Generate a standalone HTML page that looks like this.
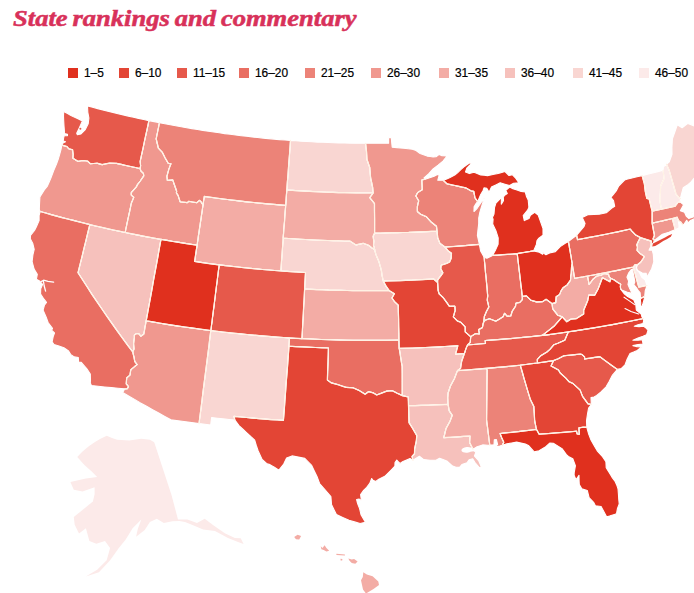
<!DOCTYPE html>
<html lang="en"><head><meta charset="utf-8"><title>State rankings and commentary</title>
<style>
html,body{margin:0;padding:0;background:#fff}
body{width:694px;height:593px;position:relative;overflow:hidden;font-family:"Liberation Sans",Arial,sans-serif}
h1{position:absolute;left:13px;top:5px;margin:0;font:italic bold 22.6px/28px "Liberation Serif","Times New Roman",serif;color:#D8315A;-webkit-text-stroke:0.5px #D8315A;white-space:nowrap;transform-origin:0 50%;word-spacing:-1.5px;transform:scaleX(1.175)}
.lg i{position:absolute;top:68px;width:10px;height:10px;display:block}
.lg b{-webkit-text-stroke:0.2px #000;position:absolute;top:66px;font-weight:normal;font-size:11.9px;line-height:14px;color:#000;white-space:nowrap}
svg{position:absolute;left:0;top:0}
.s{stroke:#fff;stroke-width:1.1;stroke-linejoin:round}
.b{fill:none;stroke:#FFF2E4;stroke-width:1.2;stroke-linejoin:round;stroke-linecap:round}
</style></head><body>
<h1>State rankings and commentary</h1>
<div class="lg"><i style="left:68px;background:#E0301E"></i><b style="left:84px">1–5</b><i style="left:119px;background:#E34535"></i><b style="left:135px">6–10</b><i style="left:177px;background:#E6594B"></i><b style="left:193px">11–15</b><i style="left:239px;background:#E96E62"></i><b style="left:255px">16–20</b><i style="left:305px;background:#EC8378"></i><b style="left:321px">21–25</b><i style="left:371px;background:#F0988F"></i><b style="left:387px">26–30</b><i style="left:439px;background:#F3ACA5"></i><b style="left:455px">31–35</b><i style="left:505px;background:#F6C1BC"></i><b style="left:521px">36–40</b><i style="left:573px;background:#F9D6D2"></i><b style="left:589px">41–45</b><i style="left:639px;background:#FCEAE9"></i><b style="left:655px">46–50</b></div>
<svg width="694" height="593" viewBox="0 0 694 593">
<path class="s" fill="#FCEAE9" d="M633.2,267.0 635.1,273.7 636.9,280.4 638.8,287.1 642.9,286.3 647.0,285.5 645.1,279.9 641.8,277.3 639.5,272.7 636.9,269.9 636.4,267.5 637.4,264.7 635.1,264.5Z"/>
<path class="s" fill="#FCEAE9" d="M672.3,218.5 677.2,217.2 677.8,219.1 678.9,220.9 680.8,222.1 682.6,224.7 681.8,225.6 680.4,222.7 678.4,221.5 679.0,225.6 678.9,228.1 674.5,229.9 674.9,228.4 673.6,223.5Z"/>
<path class="s" fill="#FCEAE9" d="M642.1,175.6 647.4,174.3 652.6,173.0 657.9,171.6 663.1,170.3 664.1,178.5 660.6,186.2 660.4,192.2 659.9,199.9 660.6,204.9 661.6,209.2 656.8,210.2 652.1,211.2 650.6,205.1 649.1,198.9 646.8,198.4 645.3,191.7 644.3,183.5Z"/>
<path class="s" fill="#FCEAE9" d="M663.1,170.3 663.4,166.8 666.5,164.3 669.2,170.3 670.9,176.2 672.6,182.1 674.3,188.0 676.0,194.0 679.0,197.8 680.4,198.5 680.1,201.9 678.0,202.5 675.7,205.4 675.2,206.2 670.7,207.2 666.1,208.2 661.6,209.2 660.6,204.9 659.9,199.9 660.4,192.2 660.6,186.2 664.1,178.5Z"/>
<path class="s" fill="#F9D6D2" d="M210.8,330.5 216.9,331.3 222.9,332.0 228.9,332.7 235.0,333.3 241.0,333.9 247.1,334.5 253.2,335.1 259.2,335.6 265.3,336.1 271.3,336.6 277.4,337.1 283.5,337.5 289.5,337.9 289.0,346.2 288.4,354.4 287.8,362.7 287.2,370.9 286.5,379.2 285.9,387.4 285.3,395.7 284.7,403.9 284.1,412.2 283.4,420.4 277.3,420.0 271.1,419.6 264.9,419.1 258.7,418.6 252.5,418.1 246.4,417.5 240.2,417.0 234.0,416.4 234.9,420.1 229.1,419.5 223.2,418.9 217.4,418.3 211.6,417.6 210.7,425.0 204.9,424.3 199.0,423.6 200.0,415.8 201.0,408.1 202.0,400.3 202.9,392.6 203.9,384.9 204.9,377.1 205.9,369.3 206.9,361.6 207.9,353.8 208.9,346.1 209.8,338.3Z"/>
<path class="s" fill="#F9D6D2" d="M290.5,140.4 295.9,140.8 301.2,141.2 306.6,141.5 312.0,141.8 317.3,142.1 322.7,142.3 328.1,142.5 333.4,142.7 338.8,142.9 344.2,143.0 349.5,143.1 354.9,143.2 360.3,143.3 365.6,143.3 366.5,151.4 367.0,159.5 369.8,167.6 370.2,172.6 370.6,177.7 371.7,182.6 372.7,187.6 373.2,193.0 367.4,193.0 361.7,193.0 355.9,192.9 350.1,192.8 344.4,192.7 338.6,192.6 332.8,192.4 327.1,192.2 321.3,192.0 315.6,191.7 309.8,191.4 304.1,191.1 298.3,190.8 292.6,190.4 286.8,190.0 287.3,182.9 287.9,175.8 288.4,168.7 288.9,161.6 289.5,154.5 290.0,147.5Z"/>
<path class="s" fill="#F9D6D2" d="M283.2,238.1 288.8,238.5 294.3,238.8 299.9,239.2 305.5,239.5 311.0,239.8 316.6,240.0 322.1,240.3 327.7,240.5 333.3,240.7 338.8,240.8 344.4,241.0 350.0,241.1 355.9,244.9 359.6,244.1 363.2,243.3 368.6,245.3 371.7,247.8 374.7,249.6 375.9,254.4 379.0,261.8 381.3,269.9 382.2,275.8 383.3,281.1 386.1,286.2 389.2,290.6 383.1,290.7 377.1,290.7 371.0,290.7 365.0,290.7 359.0,290.7 352.9,290.6 346.9,290.5 340.8,290.4 334.8,290.2 328.7,290.1 322.7,289.8 316.7,289.6 310.6,289.3 304.6,289.0 305.0,280.8 305.5,272.5 299.3,272.2 293.1,271.8 286.9,271.4 280.8,271.0 281.4,262.7 282.0,254.5 282.6,246.3Z"/>
<path class="s" fill="#F9D6D2" d="M374.6,233.0 380.3,233.0 386.0,232.9 391.7,232.8 397.4,232.7 403.0,232.5 408.7,232.4 414.4,232.1 420.1,231.9 425.8,231.7 431.4,231.4 437.1,231.1 437.7,237.6 439.9,243.3 445.1,247.1 448.3,251.0 451.5,253.3 451.2,258.2 449.6,262.0 446.6,263.5 441.2,265.2 440.8,268.8 442.9,272.8 441.2,275.4 437.7,279.8 437.6,282.6 433.6,279.0 428.0,279.3 422.4,279.6 416.8,279.9 411.2,280.2 405.6,280.4 400.1,280.6 394.5,280.8 388.9,280.9 383.3,281.1 382.2,275.8 381.3,269.9 379.0,261.8 375.9,254.4 374.7,249.6 373.5,245.3 373.8,241.2 373.1,236.3Z"/>
<path class="s" fill="#F9D6D2" d="M666.5,164.3 669.3,161.8 672.0,154.3 671.9,147.5 672.4,138.9 674.9,131.8 677.3,124.7 682.1,127.7 685.0,125.5 687.9,123.4 694.7,126.1 696.9,133.2 699.1,140.3 701.3,147.5 705.7,147.8 707.9,154.9 714.1,157.2 714.9,159.6 712.1,162.6 709.4,165.6 706.5,168.2 703.6,170.8 700.0,171.0 696.3,171.2 695.5,176.6 690.9,182.2 687.9,184.7 683.2,187.8 681.7,193.3 680.4,198.5 679.0,197.8 676.0,194.0 674.3,188.0 672.6,182.1 670.9,176.2 669.2,170.3Z"/>
<path class="s" fill="#F6C1BC" d="M89.8,224.6 95.7,226.0 101.6,227.3 107.5,228.7 113.4,230.0 119.3,231.2 125.2,232.5 131.1,233.7 137.1,234.9 143.1,236.1 149.0,237.2 155.0,238.3 161.0,239.4 159.5,247.5 158.1,255.6 156.6,263.8 155.1,271.9 153.6,280.0 152.2,288.2 150.7,296.3 149.2,304.5 147.7,312.6 146.2,320.8 145.0,327.4 143.9,334.0 140.9,336.3 138.9,333.9 136.6,333.5 134.4,335.1 134.4,337.7 133.6,343.8 134.1,348.9 132.7,352.0 127.4,344.9 122.2,337.8 117.0,330.6 111.9,323.4 106.9,316.3 101.9,309.0 97.0,301.8 92.1,294.6 87.4,287.3 82.7,280.0 78.0,272.7 80.0,264.7 82.0,256.7 83.9,248.6 85.9,240.6 87.8,232.6Z"/>
<path class="s" fill="#F6C1BC" d="M399.2,348.4 405.7,348.2 412.2,348.0 418.8,347.8 425.3,347.5 431.8,347.2 438.4,346.9 444.9,346.5 451.4,346.1 457.9,345.7 455.6,354.1 460.0,353.8 464.4,353.5 461.7,361.2 460.6,368.2 457.5,370.6 454.4,378.8 450.5,386.0 448.2,392.7 447.8,397.7 448.1,404.3 441.5,404.6 434.9,404.9 428.3,405.2 421.7,405.4 415.1,405.6 408.5,405.7 408.4,401.3 408.2,397.0 402.2,395.6 402.2,388.4 402.2,381.1 402.2,373.8 402.1,366.5 401.1,360.5 400.2,354.4Z"/>
<path class="s" fill="#F6C1BC" d="M408.5,405.7 415.1,405.6 421.7,405.4 428.3,405.2 434.9,404.9 441.5,404.6 448.1,404.3 449.3,410.9 452.3,415.3 449.9,421.6 446.1,428.4 445.0,433.0 443.8,437.6 450.4,437.3 457.0,436.9 463.6,436.4 470.1,436.0 469.6,442.6 473.0,449.3 475.8,452.4 474.4,456.0 478.8,461.0 481.3,466.8 479.5,467.8 475.0,462.5 472.7,458.9 469.1,459.8 467.0,462.8 461.9,464.6 459.8,467.1 456.0,467.3 452.6,466.1 446.8,461.0 443.0,459.5 439.6,458.3 436.0,460.3 430.0,460.3 423.7,459.6 419.4,456.3 413.0,460.3 412.0,456.3 414.5,453.7 414.6,448.8 416.4,440.5 416.7,435.5 412.5,428.2 409.0,422.6 408.8,416.9 408.7,411.3Z"/>
<path class="s" fill="#F6C1BC" d="M637.4,264.7 636.5,267.9 637.7,270.6 642.2,273.0 646.2,273.4 646.7,277.4 649.2,273.2 651.6,268.9 653.8,261.8 653.3,254.3 652.2,249.9 649.1,250.1 651.0,246.3 651.4,241.1 645.9,239.4 640.4,237.6 638.6,240.7 636.7,245.0 637.5,246.9 637.0,250.4 639.6,253.2 644.2,256.4 643.3,258.3 640.6,262.3Z"/>
<path class="s" fill="#F3ACA5" d="M204.3,196.4 210.1,197.2 215.9,198.0 221.7,198.8 227.5,199.5 233.3,200.2 239.1,200.9 244.9,201.6 250.7,202.2 256.5,202.8 262.4,203.4 268.2,203.9 274.0,204.4 279.8,204.9 285.7,205.3 285.1,213.5 284.5,221.7 283.8,229.9 283.2,238.1 282.6,246.3 282.0,254.5 281.4,262.7 280.8,271.0 274.6,270.5 268.4,270.0 262.3,269.5 256.1,268.9 249.9,268.3 243.8,267.7 237.6,267.0 231.5,266.3 225.3,265.6 219.2,264.9 213.0,264.1 206.9,263.3 200.8,262.4 194.6,261.5 195.8,253.4 197.1,245.2 198.2,237.1 199.4,229.1 200.6,221.1 201.8,213.0 203.0,205.0 203.6,200.7Z"/>
<path class="s" fill="#F3ACA5" d="M286.8,190.0 292.6,190.4 298.3,190.8 304.1,191.1 309.8,191.4 315.6,191.7 321.3,192.0 327.1,192.2 332.8,192.4 338.6,192.6 344.4,192.7 350.1,192.8 355.9,192.9 361.7,193.0 367.4,193.0 373.2,193.0 369.8,197.7 374.5,203.5 374.5,210.8 374.6,218.2 374.6,225.6 374.6,233.0 373.1,236.3 373.8,241.2 373.5,245.3 374.7,249.6 371.7,247.8 368.6,245.3 363.2,243.3 359.6,244.1 355.9,244.9 350.0,241.1 344.4,241.0 338.8,240.8 333.3,240.7 327.7,240.5 322.1,240.3 316.6,240.0 311.0,239.8 305.5,239.5 299.9,239.2 294.3,238.8 288.8,238.5 283.2,238.1 283.8,229.9 284.5,221.7 285.1,213.5 285.7,205.3 286.2,197.6Z"/>
<path class="s" fill="#F3ACA5" d="M304.6,289.0 310.6,289.3 316.7,289.6 322.7,289.8 328.7,290.1 334.8,290.2 340.8,290.4 346.9,290.5 352.9,290.6 359.0,290.7 365.0,290.7 371.0,290.7 377.1,290.7 383.1,290.7 389.2,290.6 394.4,293.8 392.0,298.0 394.6,301.7 398.3,305.1 398.4,312.1 398.6,319.1 398.7,326.1 398.9,333.1 399.0,340.1 392.5,340.2 386.0,340.3 379.6,340.4 373.1,340.4 366.6,340.4 360.2,340.4 353.7,340.3 347.2,340.2 340.7,340.1 334.3,339.9 327.8,339.7 321.3,339.5 314.9,339.2 308.4,338.9 301.9,338.6 302.4,330.3 302.8,322.1 303.3,313.8 303.7,305.5 304.2,297.3Z"/>
<path class="s" fill="#F3ACA5" d="M457.5,370.6 463.1,370.2 468.8,369.8 474.4,369.4 480.1,368.9 485.7,368.4 487.2,369.9 487.1,378.2 487.0,386.6 486.9,394.9 486.8,403.2 486.7,411.5 486.6,419.8 487.4,426.1 488.2,432.5 489.0,438.8 489.8,445.1 487.6,445.3 482.6,444.9 476.4,447.1 473.0,449.3 469.6,442.6 470.1,436.0 463.6,436.4 457.0,436.9 450.4,437.3 443.8,437.6 445.0,433.0 446.1,428.4 449.9,421.6 452.3,415.3 449.3,410.9 448.1,404.3 447.8,397.7 448.2,392.7 450.5,386.0 454.4,378.8Z"/>
<path class="s" fill="#F3ACA5" d="M572.1,263.3 573.4,270.8 574.7,278.3 579.0,277.5 583.3,276.8 587.6,276.0 588.4,280.3 589.1,284.5 593.0,279.2 596.8,276.0 601.3,275.2 603.7,273.4 608.5,274.1 609.3,276.8 610.7,278.4 609.9,281.8 606.2,279.7 602.4,277.7 600.4,283.0 598.4,288.4 594.7,295.3 588.8,295.0 587.8,300.4 585.8,305.3 583.7,310.2 583.7,314.0 580.1,316.3 576.5,318.6 570.7,319.2 566.8,321.8 562.2,316.8 557.6,315.2 552.7,308.9 552.0,303.6 555.7,302.6 556.1,296.7 559.6,294.4 561.0,290.9 563.0,287.7 567.1,284.9 570.5,280.1 570.7,275.9 571.2,273.0 571.5,267.4Z"/>
<path class="s" fill="#F0988F" d="M61.9,145.1 66.9,146.5 68.7,148.7 72.6,149.8 73.2,154.2 73.0,158.3 77.8,161.3 82.8,160.5 87.5,161.0 90.3,163.7 93.7,163.5 97.1,163.2 102.1,164.6 105.8,163.8 109.6,163.1 113.1,163.2 116.6,163.4 121.3,164.4 126.0,165.5 130.7,166.5 135.4,167.5 140.0,168.5 141.1,171.2 143.4,173.3 143.8,175.9 140.3,181.0 137.5,184.6 136.4,186.9 131.3,192.6 131.3,195.1 133.8,197.3 132.9,199.6 131.4,203.0 129.9,210.4 128.3,217.7 126.7,225.1 125.2,232.5 119.3,231.2 113.4,230.0 107.5,228.7 101.6,227.3 95.7,226.0 89.8,224.6 84.3,223.2 78.7,221.8 73.2,220.4 67.6,219.0 62.1,217.6 56.6,216.1 51.1,214.6 45.6,213.0 40.1,211.5 39.3,209.5 39.5,204.4 39.9,197.0 44.3,189.9 47.4,186.1 49.2,182.1 50.9,178.1 53.8,170.4 56.5,164.0 58.2,159.3 59.6,154.6 60.9,149.9Z"/>
<path class="s" fill="#F0988F" d="M148.9,120.6 154.2,121.6 159.5,122.7 158.4,128.1 157.3,133.5 156.2,138.9 157.3,143.5 158.4,148.1 162.2,152.1 165.2,158.0 168.4,163.5 171.0,163.7 168.9,169.1 167.0,176.2 167.4,180.4 172.8,179.9 173.9,183.3 176.7,191.2 176.4,192.8 178.1,195.4 180.2,201.8 183.8,202.2 187.3,202.6 188.7,201.3 192.7,202.0 196.8,202.7 199.5,200.3 200.8,201.4 203.0,205.0 201.8,213.0 200.6,221.1 199.4,229.1 198.2,237.1 197.1,245.2 191.0,244.3 185.0,243.4 179.0,242.4 173.0,241.5 167.0,240.4 161.0,239.4 155.0,238.3 149.0,237.2 143.1,236.1 137.1,234.9 131.1,233.7 125.2,232.5 126.7,225.1 128.3,217.7 129.9,210.4 131.4,203.0 132.9,199.6 133.8,197.3 131.3,195.1 131.3,192.6 136.4,186.9 137.5,184.6 140.3,181.0 143.8,175.9 143.4,173.3 141.1,171.2 140.0,168.5 140.6,165.8 140.1,161.5 141.6,154.6 143.1,147.8 144.5,141.0 146.0,134.2 147.5,127.3Z"/>
<path class="s" fill="#F0988F" d="M146.2,320.8 152.7,321.9 159.1,323.0 165.6,324.1 172.0,325.1 178.5,326.1 184.9,327.0 191.4,327.9 197.9,328.8 204.3,329.7 210.8,330.5 209.8,338.3 208.9,346.1 207.9,353.8 206.9,361.6 205.9,369.3 204.9,377.1 203.9,384.9 202.9,392.6 202.0,400.3 201.0,408.1 200.0,415.8 199.0,423.6 193.4,422.8 187.8,422.1 182.1,421.3 176.5,420.6 170.9,419.8 164.8,416.4 158.7,413.1 152.6,409.7 146.6,406.3 140.5,402.9 134.6,399.4 128.6,395.9 122.7,392.4 124.6,388.9 127.3,388.7 128.5,386.6 126.2,383.8 126.7,377.8 129.9,375.1 130.8,369.7 134.5,366.6 137.1,364.6 134.8,361.6 133.9,356.9 132.7,352.0 134.1,348.9 133.6,343.8 134.4,337.7 134.4,335.1 136.6,333.5 138.9,333.9 140.9,336.3 143.9,334.0 145.0,327.4Z"/>
<path class="s" fill="#F0988F" d="M365.6,143.3 370.2,143.3 374.8,143.3 379.4,143.3 384.0,143.2 388.6,143.2 388.6,137.6 391.3,137.4 391.7,142.4 392.2,147.3 397.0,147.6 400.3,148.0 403.7,148.3 408.0,148.8 412.4,149.2 416.0,150.5 420.1,153.5 423.6,154.8 427.1,156.1 430.1,156.5 433.1,157.0 436.0,156.8 439.2,154.4 442.0,155.8 447.2,155.9 443.0,161.1 438.1,165.1 433.1,169.0 428.6,173.8 424.0,178.0 425.2,179.2 421.9,180.0 422.1,184.8 422.3,189.7 417.7,192.6 415.9,196.0 418.7,200.8 417.4,206.6 417.4,211.5 420.7,214.3 426.5,216.8 431.5,222.3 436.5,226.2 437.1,231.1 431.4,231.4 425.8,231.7 420.1,231.9 414.4,232.1 408.7,232.4 403.0,232.5 397.4,232.7 391.7,232.8 386.0,232.9 380.3,233.0 374.6,233.0 374.6,225.6 374.6,218.2 374.5,210.8 374.5,203.5 369.8,197.7 373.2,193.0 372.7,187.6 371.7,182.6 370.6,177.7 370.2,172.6 369.8,167.6 367.0,159.5 366.5,151.4Z"/>
<path class="s" fill="#F0988F" d="M652.1,223.1 657.1,222.0 662.2,220.9 667.2,219.7 672.3,218.5 673.6,223.5 674.9,228.4 674.5,229.9 671.8,231.0 668.9,232.2 665.7,233.2 662.4,234.2 659.2,236.7 655.5,239.6 654.4,240.4 653.0,239.0 654.4,235.3 653.2,229.2Z"/>
<path class="s" fill="#EC8378" d="M159.5,122.7 164.9,123.8 170.3,124.8 175.7,125.8 181.2,126.8 186.6,127.7 192.0,128.6 197.5,129.5 202.9,130.4 208.4,131.2 213.8,132.0 219.3,132.8 224.7,133.6 230.2,134.3 235.7,135.0 241.1,135.7 246.6,136.3 252.1,136.9 257.6,137.5 263.1,138.1 268.5,138.6 274.0,139.1 279.5,139.6 285.0,140.0 290.5,140.4 290.0,147.5 289.5,154.5 288.9,161.6 288.4,168.7 287.9,175.8 287.3,182.9 286.8,190.0 286.2,197.6 285.7,205.3 279.8,204.9 274.0,204.4 268.2,203.9 262.4,203.4 256.5,202.8 250.7,202.2 244.9,201.6 239.1,200.9 233.3,200.2 227.5,199.5 221.7,198.8 215.9,198.0 210.1,197.2 204.3,196.4 203.6,200.7 203.0,205.0 200.8,201.4 199.5,200.3 196.8,202.7 192.7,202.0 188.7,201.3 187.3,202.6 183.8,202.2 180.2,201.8 178.1,195.4 176.4,192.8 176.7,191.2 173.9,183.3 172.8,179.9 167.4,180.4 167.0,176.2 168.9,169.1 171.0,163.7 168.4,163.5 165.2,158.0 162.2,152.1 158.4,148.1 157.3,143.5 156.2,138.9 157.3,133.5 158.4,128.1Z"/>
<path class="s" fill="#EC8378" d="M443.3,180.3 437.8,180.2 439.2,175.2 437.4,174.5 434.1,176.3 429.7,177.8 425.2,179.2 421.9,180.0 422.1,184.8 422.3,189.7 417.7,192.6 415.9,196.0 418.7,200.8 417.4,206.6 417.4,211.5 420.7,214.3 426.5,216.8 431.5,222.3 436.5,226.2 437.1,231.1 437.7,237.6 439.9,243.3 445.1,247.1 450.8,246.7 456.5,246.3 462.3,245.9 468.0,245.4 473.7,244.9 479.4,244.4 478.4,239.9 477.4,235.5 478.0,229.6 478.7,223.8 478.7,218.0 479.9,212.1 481.7,206.2 484.4,197.7 480.8,203.0 477.2,208.3 474.0,211.5 474.1,206.9 476.2,203.4 477.7,201.6 475.0,197.8 473.8,191.3 470.9,190.8 466.0,187.9 462.5,187.2 458.9,186.4 454.9,185.5 451.0,184.7 447.0,183.8Z"/>
<path class="s" fill="#EC8378" d="M485.7,368.4 491.5,367.9 497.3,367.4 503.0,366.9 508.8,366.4 514.5,365.8 520.3,365.2 522.3,372.0 524.2,378.8 526.2,385.6 528.2,392.4 530.3,399.2 533.9,406.6 534.3,413.2 534.6,419.8 535.5,424.7 536.5,429.5 530.4,430.2 524.4,430.9 518.3,431.6 512.2,432.3 506.1,432.9 500.1,433.5 501.6,437.5 503.8,442.2 502.3,445.2 499.8,446.1 495.3,446.8 497.6,444.4 496.4,439.6 494.3,439.8 494.0,444.8 489.8,445.1 489.0,438.8 488.2,432.5 487.4,426.1 486.6,419.8 486.7,411.5 486.8,403.2 486.9,394.9 487.0,386.6 487.1,378.2 487.2,369.9Z"/>
<path class="s" fill="#EC8378" d="M633.2,267.0 627.5,268.2 621.8,269.4 616.1,270.6 610.4,271.7 604.7,272.8 599.0,273.9 593.3,275.0 587.6,276.0 588.4,280.3 589.1,284.5 593.0,279.2 596.8,276.0 601.3,275.2 603.7,273.4 608.5,274.1 609.3,276.8 610.7,278.4 613.8,279.8 617.6,282.4 620.7,284.3 620.3,286.5 620.7,289.2 622.8,290.6 627.4,292.3 632.0,293.2 629.7,288.6 628.0,284.6 628.6,281.1 626.9,277.1 628.6,273.1 631.5,269.4 632.6,269.0 633.2,273.1 634.3,278.8 634.8,282.0 633.8,284.6 635.5,286.5 636.7,288.0 638.5,291.0 640.1,292.7 640.6,298.5 644.7,296.5 645.2,291.0 647.0,285.5 642.9,286.3 638.8,287.1 636.9,280.4 635.1,273.7Z"/>
<path class="s" fill="#EC8378" d="M652.1,211.2 656.8,210.2 661.6,209.2 666.1,208.2 670.7,207.2 675.2,206.2 675.7,205.4 678.0,202.5 680.1,201.9 683.6,204.7 680.3,210.8 684.5,212.2 686.2,216.0 688.7,218.4 694.6,216.6 693.6,213.1 690.9,212.7 694.6,214.5 695.7,218.2 690.6,220.5 688.1,222.9 686.7,220.2 684.0,224.3 682.6,224.7 680.8,222.1 678.9,220.9 677.8,219.1 677.2,217.2 672.3,218.5 667.2,219.7 662.2,220.9 657.1,222.0 652.1,223.1 652.1,217.2Z"/>
<path class="s" fill="#E96E62" d="M40.1,211.5 45.6,213.0 51.1,214.6 56.6,216.1 62.1,217.6 67.6,219.0 73.2,220.4 78.7,221.8 84.3,223.2 89.8,224.6 87.8,232.6 85.9,240.6 83.9,248.6 82.0,256.7 80.0,264.7 78.0,272.7 82.7,280.0 87.4,287.3 92.1,294.6 97.0,301.8 101.9,309.0 106.9,316.3 111.9,323.4 117.0,330.6 122.2,337.8 127.4,344.9 132.7,352.0 133.9,356.9 134.8,361.6 137.1,364.6 134.5,366.6 130.8,369.7 129.9,375.1 126.7,377.8 126.2,383.8 128.5,386.6 127.3,388.7 124.6,388.9 118.0,388.3 111.3,387.6 104.7,387.0 98.1,386.3 91.4,385.5 90.3,382.9 90.5,380.0 90.3,374.0 86.9,368.9 84.3,365.9 81.3,362.4 78.6,362.1 78.3,357.5 74.2,356.9 70.6,354.4 68.6,351.0 63.9,347.7 58.9,346.1 54.0,344.5 52.1,341.8 53.2,336.6 54.5,333.0 51.6,330.2 52.5,328.4 48.1,322.5 46.1,316.9 43.1,310.1 44.4,305.3 46.5,302.4 44.0,299.2 40.6,294.0 40.7,288.9 42.6,284.3 41.8,283.7 39.5,280.9 36.4,279.2 37.3,274.3 34.1,269.1 32.1,261.6 32.9,255.0 34.2,249.3 32.7,243.2 30.3,238.8 30.5,235.5 34.5,230.5 36.4,226.7 39.1,220.6 39.1,215.5Z"/>
<path class="s" fill="#E96E62" d="M289.5,337.9 295.7,338.3 301.9,338.6 308.4,338.9 314.9,339.2 321.3,339.5 327.8,339.7 334.3,339.9 340.7,340.1 347.2,340.2 353.7,340.3 360.2,340.4 366.6,340.4 373.1,340.4 379.6,340.4 386.0,340.3 392.5,340.2 399.0,340.1 399.2,348.4 400.2,354.4 401.1,360.5 402.1,366.5 402.2,373.8 402.2,381.1 402.2,388.4 402.2,395.6 397.2,393.2 392.3,390.7 386.9,391.1 381.8,393.1 376.7,395.0 373.3,392.9 368.5,391.7 365.1,394.2 359.0,390.4 352.9,387.8 346.1,387.4 342.1,386.1 338.1,384.7 331.3,382.9 327.4,380.1 327.6,372.1 327.9,364.1 328.2,356.1 328.4,348.0 321.9,347.8 315.3,347.5 308.7,347.2 302.1,346.9 295.6,346.6 289.0,346.2Z"/>
<path class="s" fill="#E96E62" d="M484.1,257.2 486.9,258.3 491.6,256.1 492.5,255.4 497.5,255.1 502.4,254.7 507.3,254.4 512.3,254.0 517.2,253.6 518.1,260.7 518.9,267.8 519.8,274.9 520.6,282.0 521.5,289.1 522.3,296.3 522.4,299.6 519.9,302.4 516.0,303.2 515.5,306.3 512.2,311.3 510.8,316.0 507.2,316.4 504.6,313.3 503.1,316.8 500.0,318.8 495.8,321.2 489.4,318.7 485.3,320.2 483.7,322.0 484.3,316.5 486.4,311.5 488.8,306.9 487.2,300.1 487.7,295.9 487.0,288.1 486.3,280.4 485.5,272.7 484.8,264.9Z"/>
<path class="s" fill="#E96E62" d="M522.3,296.3 522.4,299.6 519.9,302.4 516.0,303.2 515.5,306.3 512.2,311.3 510.8,316.0 507.2,316.4 504.6,313.3 503.1,316.8 500.0,318.8 495.8,321.2 489.4,318.7 485.3,320.2 483.7,322.0 483.0,323.8 482.4,327.6 478.6,329.6 479.3,334.0 475.6,333.5 471.0,336.4 470.7,336.8 470.2,342.3 467.5,345.0 473.5,344.5 479.5,344.0 485.5,343.5 485.2,340.5 491.5,340.1 497.9,339.6 504.3,339.1 510.6,338.6 517.0,338.0 523.3,337.4 529.7,336.8 536.0,336.1 542.3,335.4 548.2,330.9 554.0,326.3 558.1,321.6 562.2,316.8 557.6,315.2 552.7,308.9 552.0,303.6 546.1,299.3 542.6,301.6 536.6,301.9 530.8,300.2 526.4,295.8Z"/>
<path class="s" fill="#E96E62" d="M568.4,241.5 572.5,238.3 576.7,235.2 577.5,239.6 583.4,238.5 589.2,237.4 595.1,236.3 601.0,235.2 606.9,234.0 612.7,232.8 618.6,231.6 624.4,230.3 630.3,229.0 631.7,230.9 635.3,234.7 640.4,237.6 638.6,240.7 636.7,245.0 637.5,246.9 637.0,250.4 639.6,253.2 644.2,256.4 643.3,258.3 640.6,262.3 637.4,264.7 635.1,264.5 633.2,267.0 627.5,268.2 621.8,269.4 616.1,270.6 610.4,271.7 604.7,272.8 599.0,273.9 593.3,275.0 587.6,276.0 583.3,276.8 579.0,277.5 574.7,278.3 573.4,270.8 572.1,263.3 570.9,256.0 569.6,248.7Z"/>
<path class="s" fill="#E6594B" d="M87.5,105.9 92.6,107.2 97.7,108.6 102.8,109.9 107.9,111.2 113.0,112.4 118.1,113.7 123.2,114.9 128.3,116.1 133.5,117.2 138.6,118.4 143.8,119.5 148.9,120.6 147.5,127.3 146.0,134.2 144.5,141.0 143.1,147.8 141.6,154.6 140.1,161.5 140.6,165.8 140.0,168.5 135.4,167.5 130.7,166.5 126.0,165.5 121.3,164.4 116.6,163.4 113.1,163.2 109.6,163.1 105.8,163.8 102.1,164.6 97.1,163.2 93.7,163.5 90.3,163.7 87.5,161.0 82.8,160.5 77.8,161.3 73.0,158.3 73.2,154.2 72.6,149.8 68.7,148.7 66.9,146.5 61.9,145.1 63.0,143.0 65.5,141.8 63.2,141.0 63.7,137.5 64.2,135.8 67.5,135.6 67.5,134.2 64.4,133.5 64.4,131.0 64.0,126.0 63.7,120.9 63.5,116.0 63.7,111.6 68.0,113.8 70.5,115.2 73.1,116.6 78.0,118.8 82.4,120.9 79.5,127.4 76.7,133.2 77.4,134.8 81.0,133.9 85.3,129.6 88.2,123.8 88.9,118.0 87.8,112.3Z"/>
<path class="s" fill="#E6594B" d="M219.2,264.9 225.3,265.6 231.5,266.3 237.6,267.0 243.8,267.7 249.9,268.3 256.1,268.9 262.3,269.5 268.4,270.0 274.6,270.5 280.8,271.0 286.9,271.4 293.1,271.8 299.3,272.2 305.5,272.5 305.0,280.8 304.6,289.0 304.2,297.3 303.7,305.5 303.3,313.8 302.8,322.1 302.4,330.3 301.9,338.6 295.7,338.3 289.5,337.9 283.5,337.5 277.4,337.1 271.3,336.6 265.3,336.1 259.2,335.6 253.2,335.1 247.1,334.5 241.0,333.9 235.0,333.3 228.9,332.7 222.9,332.0 216.9,331.3 210.8,330.5 211.9,322.3 212.9,314.1 214.0,305.9 215.0,297.7 216.0,289.5 217.1,281.3 218.1,273.0Z"/>
<path class="s" fill="#E6594B" d="M445.1,247.1 450.8,246.7 456.5,246.3 462.3,245.9 468.0,245.4 473.7,244.9 479.4,244.4 480.6,250.9 482.6,254.4 484.1,257.2 484.8,264.9 485.5,272.7 486.3,280.4 487.0,288.1 487.7,295.9 487.2,300.1 488.8,306.9 486.4,311.5 484.3,316.5 483.7,322.0 483.0,323.8 482.4,327.6 478.6,329.6 479.3,334.0 475.6,333.5 471.0,336.4 470.7,336.8 465.2,331.9 465.1,326.9 460.6,322.2 457.5,321.1 453.3,316.9 455.1,310.5 454.8,306.2 449.4,306.4 446.6,302.4 443.2,297.7 439.1,293.8 438.0,290.0 437.6,282.6 437.7,279.8 441.2,275.4 442.9,272.8 440.8,268.8 441.2,265.2 446.6,263.5 449.6,262.0 451.2,258.2 451.5,253.3 448.3,251.0Z"/>
<path class="s" fill="#E6594B" d="M542.3,335.4 536.0,336.1 529.7,336.8 523.3,337.4 517.0,338.0 510.6,338.6 504.3,339.1 497.9,339.6 491.5,340.1 485.2,340.5 485.5,343.5 479.5,344.0 473.5,344.5 467.5,345.0 466.0,348.4 464.4,353.5 461.7,361.2 460.6,368.2 457.5,370.6 463.1,370.2 468.8,369.8 474.4,369.4 480.1,368.9 485.7,368.4 491.5,367.9 497.3,367.4 503.0,366.9 508.8,366.4 514.5,365.8 520.3,365.2 526.0,364.5 531.7,363.7 537.5,363.0 537.3,359.5 540.8,355.7 547.0,352.0 550.0,349.4 554.0,344.7 557.9,343.3 561.3,341.8 564.8,340.2 566.2,337.0 568.4,331.8 561.9,332.8 555.4,333.7 548.9,334.6Z"/>
<path class="s" fill="#E6594B" d="M591.3,404.5 588.0,403.9 582.5,396.4 580.1,390.1 572.8,383.4 569.1,381.8 565.8,378.1 560.2,373.0 558.4,370.0 554.7,368.0 551.0,366.0 553.5,360.6 558.1,358.8 563.8,355.8 569.3,355.2 574.9,354.6 580.4,354.0 582.1,354.6 584.6,356.9 584.6,358.9 589.6,358.2 594.7,357.4 599.7,356.6 605.6,360.9 611.5,365.2 617.4,369.4 612.5,375.0 609.0,381.8 606.1,386.8 601.0,392.0 596.7,395.5 594.0,397.0 591.0,397.6Z"/>
<path class="s" fill="#E34535" d="M289.0,346.2 295.6,346.6 302.1,346.9 308.7,347.2 315.3,347.5 321.9,347.8 328.4,348.0 328.2,356.1 327.9,364.1 327.6,372.1 327.4,380.1 331.3,382.9 338.1,384.7 342.1,386.1 346.1,387.4 352.9,387.8 359.0,390.4 365.1,394.2 368.5,391.7 373.3,392.9 376.7,395.0 381.8,393.1 386.9,391.1 392.3,390.7 397.2,393.2 402.2,395.6 408.2,397.0 408.4,401.3 408.5,405.7 408.7,411.3 408.8,416.9 409.0,422.6 412.5,428.2 416.7,435.5 416.4,440.5 414.6,448.8 414.5,453.7 412.0,456.3 413.0,460.3 410.0,458.6 406.0,460.2 403.0,461.5 400.0,463.4 398.5,462.0 396.8,460.0 395.0,462.5 394.9,466.2 390.9,470.3 384.8,476.3 378.8,479.3 375.7,481.4 373.0,480.3 371.7,478.5 369.7,483.4 366.7,487.4 363.6,490.4 360.6,494.5 361.4,500.6 359.0,499.0 356.6,499.5 357.6,503.5 359.6,508.6 361.0,514.6 365.4,522.2 360.1,523.5 354.5,521.9 349.0,520.3 342.7,517.4 336.4,514.4 333.9,509.4 331.5,504.4 330.9,496.6 325.3,490.0 319.6,483.5 317.0,476.5 314.3,470.9 311.7,465.4 304.8,458.4 298.4,457.1 292.0,455.9 286.6,457.9 283.7,464.1 278.9,470.1 274.4,467.3 269.9,464.6 267.1,463.9 262.1,459.4 258.1,450.8 256.3,445.5 254.7,440.1 250.7,436.5 246.8,432.8 242.9,429.2 239.0,425.6 234.9,420.1 234.0,416.4 240.2,417.0 246.4,417.5 252.5,418.1 258.7,418.6 264.9,419.1 271.1,419.6 277.3,420.0 283.4,420.4 284.1,412.2 284.7,403.9 285.3,395.7 285.9,387.4 286.5,379.2 287.2,370.9 287.8,362.7 288.4,354.4Z"/>
<path class="s" fill="#E34535" d="M383.3,281.1 388.9,280.9 394.5,280.8 400.1,280.6 405.6,280.4 411.2,280.2 416.8,279.9 422.4,279.6 428.0,279.3 433.6,279.0 437.6,282.6 438.0,290.0 439.1,293.8 443.2,297.7 446.6,302.4 449.4,306.4 454.8,306.2 455.1,310.5 453.3,316.9 457.5,321.1 460.6,322.2 465.1,326.9 465.2,331.9 470.7,336.8 470.2,342.3 467.5,345.0 466.0,348.4 464.4,353.5 460.0,353.8 455.6,354.1 457.9,345.7 451.4,346.1 444.9,346.5 438.4,346.9 431.8,347.2 425.3,347.5 418.8,347.8 412.2,348.0 405.7,348.2 399.2,348.4 399.0,340.1 398.9,333.1 398.7,326.1 398.6,319.1 398.4,312.1 398.3,305.1 394.6,301.7 392.0,298.0 394.4,293.8 389.2,290.6 386.1,286.2Z"/>
<path class="s" fill="#E34535" d="M537.5,363.0 531.7,363.7 526.0,364.5 520.3,365.2 526.0,364.5 531.7,363.7 537.5,363.0 542.8,362.2 548.2,361.4 553.5,360.6 551.0,366.0 554.7,368.0 558.4,370.0 560.2,373.0 565.8,378.1 569.1,381.8 572.8,383.4 580.1,390.1 582.5,396.4 588.0,403.9 591.3,404.5 588.6,408.0 587.5,414.0 586.5,420.9 586.8,427.3 583.2,427.2 579.0,427.9 579.3,434.3 577.1,434.0 576.5,431.2 570.3,431.8 564.0,432.3 557.8,432.8 551.6,433.3 545.3,433.8 539.1,434.2 536.5,429.5 535.5,424.7 534.6,419.8 534.3,413.2 533.9,406.6 530.3,399.2 528.2,392.4 526.2,385.6 524.2,378.8 522.3,372.0 520.3,365.2 526.0,364.5 531.7,363.7Z"/>
<path class="s" fill="#E34535" d="M643.5,318.5 637.3,319.7 631.0,321.0 624.8,322.2 618.6,323.4 612.3,324.6 606.0,325.7 599.8,326.8 593.5,327.9 587.2,328.9 580.9,329.9 574.7,330.9 568.4,331.8 566.2,337.0 564.8,340.2 561.3,341.8 557.9,343.3 554.0,344.7 550.0,349.4 547.0,352.0 540.8,355.7 537.3,359.5 537.5,363.0 542.8,362.2 548.2,361.4 553.5,360.6 558.1,358.8 563.8,355.8 569.3,355.2 574.9,354.6 580.4,354.0 582.1,354.6 584.6,356.9 584.6,358.9 589.6,358.2 594.7,357.4 599.7,356.6 605.6,360.9 611.5,365.2 617.4,369.4 621.4,368.5 625.0,364.9 627.1,359.2 630.0,353.4 633.6,352.0 637.2,350.5 641.6,346.9 637.0,346.6 632.9,345.6 638.0,344.6 643.0,344.0 642.3,339.7 638.0,340.3 632.9,340.2 638.0,338.0 643.0,336.3 646.6,334.7 648.0,330.3 646.0,328.0 643.7,326.3 639.0,326.6 634.3,326.3 638.0,324.8 643.0,323.5 643.7,321.0Z"/>
<path class="s" fill="#E34535" d="M576.7,235.2 580.3,230.9 583.9,226.7 585.1,223.4 582.2,217.6 585.3,216.1 588.3,214.6 593.8,214.4 599.2,214.2 602.8,213.5 606.3,212.8 611.5,208.3 614.7,206.3 613.5,200.7 610.9,197.4 613.6,194.1 616.2,190.9 618.7,186.1 621.6,183.1 624.6,180.1 626.8,179.2 631.9,178.0 637.0,176.8 642.1,175.6 644.3,183.5 645.3,191.7 646.8,198.4 649.1,198.9 650.6,205.1 652.1,211.2 652.1,217.2 652.1,223.1 653.2,229.2 654.4,235.3 653.0,239.0 654.4,240.4 653.2,243.2 651.8,244.4 651.0,246.3 651.4,241.1 645.9,239.4 640.4,237.6 635.3,234.7 631.7,230.9 630.3,229.0 624.4,230.3 618.6,231.6 612.7,232.8 606.9,234.0 601.0,235.2 595.1,236.3 589.2,237.4 583.4,238.5 577.5,239.6Z"/>
<path class="s" fill="#E0301E" d="M161.0,239.4 167.0,240.4 173.0,241.5 179.0,242.4 185.0,243.4 191.0,244.3 197.1,245.2 195.8,253.4 194.6,261.5 200.8,262.4 206.9,263.3 213.0,264.1 219.2,264.9 218.1,273.0 217.1,281.3 216.0,289.5 215.0,297.7 214.0,305.9 212.9,314.1 211.9,322.3 210.8,330.5 204.3,329.7 197.9,328.8 191.4,327.9 184.9,327.0 178.5,326.1 172.0,325.1 165.6,324.1 159.1,323.0 152.7,321.9 146.2,320.8 147.7,312.6 149.2,304.5 150.7,296.3 152.2,288.2 153.6,280.0 155.1,271.9 156.6,263.8 158.1,255.6 159.5,247.5Z"/>
<path class="s" fill="#E0301E" d="M492.5,255.4 495.8,249.4 498.1,244.2 498.2,237.9 495.9,230.7 492.7,224.1 493.1,219.1 492.4,217.5 494.0,214.0 494.5,207.7 495.9,203.1 498.6,200.3 501.4,197.5 501.3,204.1 503.5,200.6 503.3,197.3 504.6,195.2 507.3,193.5 505.8,190.4 509.7,187.0 512.9,188.7 517.0,190.1 521.1,191.4 525.3,192.0 526.6,196.8 528.2,199.9 528.9,207.2 527.8,209.9 523.2,215.5 524.3,220.6 529.0,218.5 530.4,215.3 534.7,212.2 538.2,215.0 540.7,222.1 543.0,228.5 543.0,235.1 538.9,238.2 537.0,240.6 536.4,244.4 533.6,250.9 528.1,251.8 522.7,252.7 517.2,253.6 512.3,254.0 507.3,254.4 502.4,254.7 497.5,255.1ZM477.7,201.6 480.6,194.8 483.1,190.4 484.0,187.9 486.9,188.4 489.1,192.3 491.4,187.1 495.8,185.0 500.2,182.8 504.9,184.2 509.6,185.5 513.6,183.2 518.8,182.7 515.9,178.4 512.5,174.8 509.0,175.5 505.0,171.5 500.0,173.0 497.0,173.7 494.0,174.3 490.8,175.0 487.5,175.6 484.1,175.3 480.7,175.0 476.0,173.0 473.8,172.2 469.4,173.6 465.5,171.9 466.8,168.2 469.5,165.5 471.2,163.9 470.0,162.7 467.5,164.3 464.8,166.2 460.8,169.6 457.5,172.8 454.7,175.1 450.0,177.5 446.7,178.9 443.3,180.3 447.0,183.8 451.0,184.7 454.9,185.5 458.9,186.4 462.5,187.2 466.0,187.9 470.9,190.8 473.8,191.3 475.0,197.8Z"/>
<path class="s" fill="#E0301E" d="M517.2,253.6 522.7,252.7 528.1,251.8 533.6,250.9 539.3,252.3 542.7,254.3 542.9,252.6 545.9,254.7 549.6,253.0 555.4,251.6 560.2,246.6 565.2,243.3 568.4,241.5 569.6,248.7 570.9,256.0 572.1,263.3 571.5,267.4 571.2,273.0 570.7,275.9 570.5,280.1 567.1,284.9 563.0,287.7 561.0,290.9 559.6,294.4 556.1,296.7 555.7,302.6 552.0,303.6 546.1,299.3 542.6,301.6 536.6,301.9 530.8,300.2 526.4,295.8 522.3,296.3 521.5,289.1 520.6,282.0 519.8,274.9 518.9,267.8 518.1,260.7Z"/>
<path class="s" fill="#E0301E" d="M536.5,429.5 539.1,434.2 545.3,433.8 551.6,433.3 557.8,432.8 564.0,432.3 570.3,431.8 576.5,431.2 577.1,434.0 579.3,434.3 579.0,427.9 583.2,427.2 586.8,427.3 588.6,433.9 591.0,440.1 594.1,445.5 597.2,450.8 602.5,456.6 605.9,461.8 606.2,467.6 610.4,474.4 611.9,477.1 614.9,481.1 616.7,484.9 618.0,488.8 618.4,493.7 618.7,498.7 619.2,504.0 617.4,508.8 616.8,512.2 616.0,514.0 609.5,516.1 606.6,516.7 603.8,511.6 601.1,506.5 595.4,505.8 593.6,502.3 589.1,497.7 587.3,490.5 581.8,488.9 579.3,484.6 579.1,481.0 579.0,475.2 576.0,479.8 574.1,475.1 574.2,472.6 575.4,465.8 572.8,458.7 568.4,456.4 566.4,454.6 562.0,448.6 558.8,446.6 553.3,443.2 549.7,443.1 545.8,446.6 539.1,450.8 534.2,451.9 528.4,445.4 525.4,444.1 521.0,443.1 516.6,442.1 511.7,443.0 506.8,443.9 502.3,445.2 503.8,442.2 501.6,437.5 500.1,433.5 506.1,432.9 512.2,432.3 518.3,431.6 524.4,430.9 530.4,430.2Z"/>
<path class="s" fill="#E0301E" d="M610.7,278.4 609.9,281.8 606.2,279.7 602.4,277.7 600.4,283.0 598.4,288.4 594.7,295.3 588.8,295.0 587.8,300.4 585.8,305.3 583.7,310.2 583.7,314.0 580.1,316.3 576.5,318.6 570.7,319.2 566.8,321.8 562.2,316.8 558.1,321.6 554.0,326.3 548.2,330.9 542.3,335.4 548.9,334.6 555.4,333.7 561.9,332.8 568.4,331.8 574.7,330.9 580.9,329.9 587.2,328.9 593.5,327.9 599.8,326.8 606.0,325.7 612.3,324.6 618.6,323.4 624.8,322.2 631.0,321.0 637.3,319.7 643.5,318.5 641.9,316.9 641.4,314.3 636.3,310.0 635.8,304.8 633.7,299.8 627.6,296.6 624.0,293.5 620.7,289.2 620.3,286.5 620.7,284.3 617.6,282.4 613.8,279.8ZM640.6,298.5 644.7,296.5 644.0,300.0 642.8,304.0 641.3,307.0 640.3,306.5 640.8,303.0 640.4,300.5Z"/>
<path fill="#FCEAE9" d="M77.3,457.0 82.0,452.0 88.5,446.6 94.6,442.3 100.0,439.0 106.7,435.7 112.0,438.0 117.1,439.7 129.2,440.6 141.3,438.8 149.9,439.7 154.2,442.3 171.5,495.0 178.0,519.5 187.4,519.5 197.0,523.0 204.7,518.8 213.3,525.3 224.8,533.2 234.9,538.0 240.7,538.2 243.6,544.0 238.0,542.0 228.0,538.0 215.0,531.0 203.2,529.6 193.1,525.3 185.0,522.0 179.3,521.0 172.4,521.3 163.8,523.0 156.8,518.7 149.9,522.1 144.7,529.9 136.1,536.8 137.8,529.0 141.3,519.5 132.6,528.2 125.7,539.4 118.8,548.1 110.1,560.2 98.9,572.3 85.9,576.6 97.2,569.7 106.7,560.2 110.1,548.1 105.0,541.1 96.3,543.7 89.4,541.1 85.9,528.2 79.0,533.4 74.7,524.7 73.8,516.9 82.5,510.0 92.9,501.4 94.6,494.2 94.6,487.3 82.5,491.6 73.8,489.8 70.4,482.1 85.9,478.6 97.2,476.9 92.0,471.7 84.2,464.8Z"/>
<path fill="#F3ACA5" d="M294.2,537.0 297.6,534.7 301.1,536.1 299.2,539.5 296.0,539.3ZM320.7,546.2 322.5,548.0 324.6,545.3 326.4,548.0 329.2,550.8 326.4,551.5 323.7,549.9 321.4,549.2ZM336.4,553.8 344.9,554.5 344.9,555.5 336.4,554.9ZM340.5,558.8 342.4,558.9 342.2,560.6 340.6,560.4ZM348.3,558.4 351.8,559.6 354.1,559.1 357.6,561.4 355.3,563.7 351.8,563.0 349.5,560.7ZM363.3,572.3 366.8,574.6 372.6,576.2 378.3,581.5 379.0,585.0 373.5,589.0 366.0,593.5 363.0,589.5 361.0,580.3 362.8,576.9Z"/>
<path fill="#E34535" d="M652.2,246.4 653.0,243.4 657.0,241.4 661.0,239.4 665.0,237.4 668.5,235.4 672.2,234.0 670.8,236.8 667.2,238.9 663.2,241.1 658.7,243.9 655.2,245.9Z"/>
<ellipse cx="467" cy="449.9" rx="5.6" ry="2.9" fill="#fff" transform="rotate(-6 467 449.9)"/><path d="M471,448.3 L476.5,448.6 L476.5,451.2 L471,451.6Z" fill="#fff"/>
<path d="M41.2,281.6 L43.6,280.2 L48,281.3 L53.6,282.1 M43.4,281 L44.2,286 L45.6,291.2" fill="none" stroke="#fff" stroke-width="1.3" stroke-linecap="round" stroke-linejoin="round"/>
<path d="M624,297.2 L629,300.6 L634.6,304.6 M625,308.6 L631,311.4 L638.6,314" fill="none" stroke="#fff" stroke-width="1.1" stroke-linecap="round"/>
<circle cx="80.4" cy="128.8" r="1" fill="#E6594B"/>
<path class="b" d="M61.9,145.1 66.9,146.5 68.7,148.7 72.6,149.8 73.2,154.2 73.0,158.3 77.8,161.3 82.8,160.5 87.5,161.0 90.3,163.7 93.7,163.5 97.1,163.2 102.1,164.6 105.8,163.8 109.6,163.1 113.1,163.2 116.6,163.4 121.3,164.4 126.0,165.5 130.7,166.5 135.4,167.5 140.0,168.5M148.9,120.6 147.5,127.3 146.0,134.2 144.5,141.0 143.1,147.8 141.6,154.6 140.1,161.5 140.6,165.8 140.0,168.5M140.0,168.5 141.1,171.2 143.4,173.3 143.8,175.9 140.3,181.0 137.5,184.6 136.4,186.9 131.3,192.6 131.3,195.1 133.8,197.3 132.9,199.6 131.4,203.0 129.9,210.4 128.3,217.7 126.7,225.1 125.2,232.5M40.1,211.5 45.6,213.0 51.1,214.6 56.6,216.1 62.1,217.6 67.6,219.0 73.2,220.4 78.7,221.8 84.3,223.2 89.8,224.6M89.8,224.6 95.7,226.0 101.6,227.3 107.5,228.7 113.4,230.0 119.3,231.2 125.2,232.5M125.2,232.5 131.1,233.7 137.1,234.9 143.1,236.1 149.0,237.2 155.0,238.3 161.0,239.4M161.0,239.4 167.0,240.4 173.0,241.5 179.0,242.4 185.0,243.4 191.0,244.3 197.1,245.2M89.8,224.6 87.8,232.6 85.9,240.6 83.9,248.6 82.0,256.7 80.0,264.7 78.0,272.7 82.7,280.0 87.4,287.3 92.1,294.6 97.0,301.8 101.9,309.0 106.9,316.3 111.9,323.4 117.0,330.6 122.2,337.8 127.4,344.9 132.7,352.0M161.0,239.4 159.5,247.5 158.1,255.6 156.6,263.8 155.1,271.9 153.6,280.0 152.2,288.2 150.7,296.3 149.2,304.5 147.7,312.6 146.2,320.8M146.2,320.8 145.0,327.4 143.9,334.0 140.9,336.3 138.9,333.9 136.6,333.5 134.4,335.1 134.4,337.7 133.6,343.8 134.1,348.9 132.7,352.0M132.7,352.0 133.9,356.9 134.8,361.6 137.1,364.6 134.5,366.6 130.8,369.7 129.9,375.1 126.7,377.8 126.2,383.8 128.5,386.6 127.3,388.7 124.6,388.9M159.5,122.7 158.4,128.1 157.3,133.5 156.2,138.9 157.3,143.5 158.4,148.1 162.2,152.1 165.2,158.0 168.4,163.5 171.0,163.7 168.9,169.1 167.0,176.2 167.4,180.4 172.8,179.9 173.9,183.3 176.7,191.2 176.4,192.8 178.1,195.4 180.2,201.8 183.8,202.2 187.3,202.6 188.7,201.3 192.7,202.0 196.8,202.7 199.5,200.3 200.8,201.4 203.0,205.0M203.0,205.0 201.8,213.0 200.6,221.1 199.4,229.1 198.2,237.1 197.1,245.2M203.0,205.0 203.6,200.7 204.3,196.4M204.3,196.4 210.1,197.2 215.9,198.0 221.7,198.8 227.5,199.5 233.3,200.2 239.1,200.9 244.9,201.6 250.7,202.2 256.5,202.8 262.4,203.4 268.2,203.9 274.0,204.4 279.8,204.9 285.7,205.3M197.1,245.2 195.8,253.4 194.6,261.5M194.6,261.5 200.8,262.4 206.9,263.3 213.0,264.1 219.2,264.9M219.2,264.9 218.1,273.0 217.1,281.3 216.0,289.5 215.0,297.7 214.0,305.9 212.9,314.1 211.9,322.3 210.8,330.5M146.2,320.8 152.7,321.9 159.1,323.0 165.6,324.1 172.0,325.1 178.5,326.1 184.9,327.0 191.4,327.9 197.9,328.8 204.3,329.7 210.8,330.5M210.8,330.5 209.8,338.3 208.9,346.1 207.9,353.8 206.9,361.6 205.9,369.3 204.9,377.1 203.9,384.9 202.9,392.6 202.0,400.3 201.0,408.1 200.0,415.8 199.0,423.6M210.8,330.5 216.9,331.3 222.9,332.0 228.9,332.7 235.0,333.3 241.0,333.9 247.1,334.5 253.2,335.1 259.2,335.6 265.3,336.1 271.3,336.6 277.4,337.1 283.5,337.5 289.5,337.9M289.5,337.9 295.7,338.3 301.9,338.6M301.9,338.6 308.4,338.9 314.9,339.2 321.3,339.5 327.8,339.7 334.3,339.9 340.7,340.1 347.2,340.2 353.7,340.3 360.2,340.4 366.6,340.4 373.1,340.4 379.6,340.4 386.0,340.3 392.5,340.2 399.0,340.1M304.6,289.0 304.2,297.3 303.7,305.5 303.3,313.8 302.8,322.1 302.4,330.3 301.9,338.6M305.5,272.5 305.0,280.8 304.6,289.0M219.2,264.9 225.3,265.6 231.5,266.3 237.6,267.0 243.8,267.7 249.9,268.3 256.1,268.9 262.3,269.5 268.4,270.0 274.6,270.5 280.8,271.0M280.8,271.0 286.9,271.4 293.1,271.8 299.3,272.2 305.5,272.5M283.2,238.1 282.6,246.3 282.0,254.5 281.4,262.7 280.8,271.0M285.7,205.3 285.1,213.5 284.5,221.7 283.8,229.9 283.2,238.1M286.8,190.0 286.2,197.6 285.7,205.3M290.5,140.4 290.0,147.5 289.5,154.5 288.9,161.6 288.4,168.7 287.9,175.8 287.3,182.9 286.8,190.0M286.8,190.0 292.6,190.4 298.3,190.8 304.1,191.1 309.8,191.4 315.6,191.7 321.3,192.0 327.1,192.2 332.8,192.4 338.6,192.6 344.4,192.7 350.1,192.8 355.9,192.9 361.7,193.0 367.4,193.0 373.2,193.0M283.2,238.1 288.8,238.5 294.3,238.8 299.9,239.2 305.5,239.5 311.0,239.8 316.6,240.0 322.1,240.3 327.7,240.5 333.3,240.7 338.8,240.8 344.4,241.0 350.0,241.1 355.9,244.9 359.6,244.1 363.2,243.3 368.6,245.3 371.7,247.8 374.7,249.6M304.6,289.0 310.6,289.3 316.7,289.6 322.7,289.8 328.7,290.1 334.8,290.2 340.8,290.4 346.9,290.5 352.9,290.6 359.0,290.7 365.0,290.7 371.0,290.7 377.1,290.7 383.1,290.7 389.2,290.6M234.9,420.1 234.0,416.4 240.2,417.0 246.4,417.5 252.5,418.1 258.7,418.6 264.9,419.1 271.1,419.6 277.3,420.0 283.4,420.4 284.1,412.2 284.7,403.9 285.3,395.7 285.9,387.4 286.5,379.2 287.2,370.9 287.8,362.7 288.4,354.4 289.0,346.2M289.0,346.2 289.5,337.9M289.0,346.2 295.6,346.6 302.1,346.9 308.7,347.2 315.3,347.5 321.9,347.8 328.4,348.0 328.2,356.1 327.9,364.1 327.6,372.1 327.4,380.1 331.3,382.9 338.1,384.7 342.1,386.1 346.1,387.4 352.9,387.8 359.0,390.4 365.1,394.2 368.5,391.7 373.3,392.9 376.7,395.0 381.8,393.1 386.9,391.1 392.3,390.7 397.2,393.2 402.2,395.6M413.0,460.3 412.0,456.3 414.5,453.7 414.6,448.8 416.4,440.5 416.7,435.5 412.5,428.2 409.0,422.6 408.8,416.9 408.7,411.3 408.5,405.7M408.5,405.7 408.4,401.3 408.2,397.0 402.2,395.6M399.2,348.4 400.2,354.4 401.1,360.5 402.1,366.5 402.2,373.8 402.2,381.1 402.2,388.4 402.2,395.6M399.0,340.1 399.2,348.4M389.2,290.6 394.4,293.8 392.0,298.0 394.6,301.7 398.3,305.1 398.4,312.1 398.6,319.1 398.7,326.1 398.9,333.1 399.0,340.1M374.7,249.6 375.9,254.4 379.0,261.8 381.3,269.9 382.2,275.8 383.3,281.1M383.3,281.1 386.1,286.2 389.2,290.6M374.6,233.0 373.1,236.3 373.8,241.2 373.5,245.3 374.7,249.6M373.2,193.0 369.8,197.7 374.5,203.5 374.5,210.8 374.6,218.2 374.6,225.6 374.6,233.0M365.6,143.3 366.5,151.4 367.0,159.5 369.8,167.6 370.2,172.6 370.6,177.7 371.7,182.6 372.7,187.6 373.2,193.0M374.6,233.0 380.3,233.0 386.0,232.9 391.7,232.8 397.4,232.7 403.0,232.5 408.7,232.4 414.4,232.1 420.1,231.9 425.8,231.7 431.4,231.4 437.1,231.1M383.3,281.1 388.9,280.9 394.5,280.8 400.1,280.6 405.6,280.4 411.2,280.2 416.8,279.9 422.4,279.6 428.0,279.3 433.6,279.0 437.6,282.6M399.2,348.4 405.7,348.2 412.2,348.0 418.8,347.8 425.3,347.5 431.8,347.2 438.4,346.9 444.9,346.5 451.4,346.1 457.9,345.7 455.6,354.1 460.0,353.8 464.4,353.5M408.5,405.7 415.1,405.6 421.7,405.4 428.3,405.2 434.9,404.9 441.5,404.6 448.1,404.3M425.2,179.2 421.9,180.0 422.1,184.8 422.3,189.7 417.7,192.6 415.9,196.0 418.7,200.8 417.4,206.6 417.4,211.5 420.7,214.3 426.5,216.8 431.5,222.3 436.5,226.2 437.1,231.1M437.1,231.1 437.7,237.6 439.9,243.3 445.1,247.1M445.1,247.1 448.3,251.0 451.5,253.3 451.2,258.2 449.6,262.0 446.6,263.5 441.2,265.2 440.8,268.8 442.9,272.8 441.2,275.4 437.7,279.8 437.6,282.6M437.6,282.6 438.0,290.0 439.1,293.8 443.2,297.7 446.6,302.4 449.4,306.4 454.8,306.2 455.1,310.5 453.3,316.9 457.5,321.1 460.6,322.2 465.1,326.9 465.2,331.9 470.7,336.8M470.7,336.8 470.2,342.3 467.5,345.0M467.5,345.0 466.0,348.4 464.4,353.5M464.4,353.5 461.7,361.2 460.6,368.2 457.5,370.6M457.5,370.6 454.4,378.8 450.5,386.0 448.2,392.7 447.8,397.7 448.1,404.3M448.1,404.3 449.3,410.9 452.3,415.3 449.9,421.6 446.1,428.4 445.0,433.0 443.8,437.6 450.4,437.3 457.0,436.9 463.6,436.4 470.1,436.0 469.6,442.6 473.0,449.3M485.7,368.4 487.2,369.9 487.1,378.2 487.0,386.6 486.9,394.9 486.8,403.2 486.7,411.5 486.6,419.8 487.4,426.1 488.2,432.5 489.0,438.8 489.8,445.1M457.5,370.6 463.1,370.2 468.8,369.8 474.4,369.4 480.1,368.9 485.7,368.4M485.7,368.4 491.5,367.9 497.3,367.4 503.0,366.9 508.8,366.4 514.5,365.8 520.3,365.2M536.5,429.5 530.4,430.2 524.4,430.9 518.3,431.6 512.2,432.3 506.1,432.9 500.1,433.5 501.6,437.5 503.8,442.2 502.3,445.2M520.3,365.2 522.3,372.0 524.2,378.8 526.2,385.6 528.2,392.4 530.3,399.2 533.9,406.6 534.3,413.2 534.6,419.8 535.5,424.7 536.5,429.5M536.5,429.5 539.1,434.2 545.3,433.8 551.6,433.3 557.8,432.8 564.0,432.3 570.3,431.8 576.5,431.2 577.1,434.0 579.3,434.3 579.0,427.9 583.2,427.2 586.8,427.3M591.3,404.5 588.0,403.9 582.5,396.4 580.1,390.1 572.8,383.4 569.1,381.8 565.8,378.1 560.2,373.0 558.4,370.0 554.7,368.0 551.0,366.0 553.5,360.6M553.5,360.6 548.2,361.4 542.8,362.2 537.5,363.0M537.5,363.0 531.7,363.7 526.0,364.5 520.3,365.2M617.4,369.4 611.5,365.2 605.6,360.9 599.7,356.6 594.7,357.4 589.6,358.2 584.6,358.9 584.6,356.9 582.1,354.6 580.4,354.0 574.9,354.6 569.3,355.2 563.8,355.8 558.1,358.8 553.5,360.6M643.5,318.5 637.3,319.7 631.0,321.0 624.8,322.2 618.6,323.4 612.3,324.6 606.0,325.7 599.8,326.8 593.5,327.9 587.2,328.9 580.9,329.9 574.7,330.9 568.4,331.8M568.4,331.8 566.2,337.0 564.8,340.2 561.3,341.8 557.9,343.3 554.0,344.7 550.0,349.4 547.0,352.0 540.8,355.7 537.3,359.5 537.5,363.0M542.3,335.4 548.9,334.6 555.4,333.7 561.9,332.8 568.4,331.8M562.2,316.8 558.1,321.6 554.0,326.3 548.2,330.9 542.3,335.4M542.3,335.4 536.0,336.1 529.7,336.8 523.3,337.4 517.0,338.0 510.6,338.6 504.3,339.1 497.9,339.6 491.5,340.1 485.2,340.5 485.5,343.5 479.5,344.0 473.5,344.5 467.5,345.0M562.2,316.8 557.6,315.2 552.7,308.9 552.0,303.6M552.0,303.6 555.7,302.6 556.1,296.7 559.6,294.4 561.0,290.9 563.0,287.7 567.1,284.9 570.5,280.1 570.7,275.9 571.2,273.0 571.5,267.4 572.1,263.3M552.0,303.6 546.1,299.3 542.6,301.6 536.6,301.9 530.8,300.2 526.4,295.8 522.3,296.3M522.3,296.3 522.4,299.6 519.9,302.4 516.0,303.2 515.5,306.3 512.2,311.3 510.8,316.0 507.2,316.4 504.6,313.3 503.1,316.8 500.0,318.8 495.8,321.2 489.4,318.7 485.3,320.2 483.7,322.0M483.7,322.0 483.0,323.8 482.4,327.6 478.6,329.6 479.3,334.0 475.6,333.5 471.0,336.4 470.7,336.8M484.1,257.2 484.8,264.9 485.5,272.7 486.3,280.4 487.0,288.1 487.7,295.9 487.2,300.1 488.8,306.9 486.4,311.5 484.3,316.5 483.7,322.0M517.2,253.6 518.1,260.7 518.9,267.8 519.8,274.9 520.6,282.0 521.5,289.1 522.3,296.3M568.4,241.5 569.6,248.7 570.9,256.0 572.1,263.3M572.1,263.3 573.4,270.8 574.7,278.3 579.0,277.5 583.3,276.8 587.6,276.0M587.6,276.0 588.4,280.3 589.1,284.5 593.0,279.2 596.8,276.0 601.3,275.2 603.7,273.4 608.5,274.1 609.3,276.8 610.7,278.4M610.7,278.4 609.9,281.8 606.2,279.7 602.4,277.7 600.4,283.0 598.4,288.4 594.7,295.3 588.8,295.0 587.8,300.4 585.8,305.3 583.7,310.2 583.7,314.0 580.1,316.3 576.5,318.6 570.7,319.2 566.8,321.8 562.2,316.8M445.1,247.1 450.8,246.7 456.5,246.3 462.3,245.9 468.0,245.4 473.7,244.9 479.4,244.4M492.5,255.4 497.5,255.1 502.4,254.7 507.3,254.4 512.3,254.0 517.2,253.6M517.2,253.6 522.7,252.7 528.1,251.8 533.6,250.9M477.7,201.6 475.0,197.8 473.8,191.3 470.9,190.8 466.0,187.9 462.5,187.2 458.9,186.4 454.9,185.5 451.0,184.7 447.0,183.8 443.3,180.3M576.7,235.2 577.5,239.6 583.4,238.5 589.2,237.4 595.1,236.3 601.0,235.2 606.9,234.0 612.7,232.8 618.6,231.6 624.4,230.3 630.3,229.0 631.7,230.9 635.3,234.7 640.4,237.6M640.4,237.6 638.6,240.7 636.7,245.0 637.5,246.9 637.0,250.4 639.6,253.2 644.2,256.4 643.3,258.3 640.6,262.3 637.4,264.7M637.4,264.7 635.1,264.5 633.2,267.0M633.2,267.0 627.5,268.2 621.8,269.4 616.1,270.6 610.4,271.7 604.7,272.8 599.0,273.9 593.3,275.0 587.6,276.0M633.2,267.0 635.1,273.7 636.9,280.4 638.8,287.1 642.9,286.3 647.0,285.5M651.0,246.3 651.4,241.1 645.9,239.4 640.4,237.6M642.1,175.6 644.3,183.5 645.3,191.7 646.8,198.4 649.1,198.9 650.6,205.1 652.1,211.2M652.1,211.2 652.1,217.2 652.1,223.1M652.1,223.1 653.2,229.2 654.4,235.3 653.0,239.0 654.4,240.4M652.1,223.1 657.1,222.0 662.2,220.9 667.2,219.7 672.3,218.5M672.3,218.5 673.6,223.5 674.9,228.4 674.5,229.9M672.3,218.5 677.2,217.2 677.8,219.1 678.9,220.9 680.8,222.1 682.6,224.7M652.1,211.2 656.8,210.2 661.6,209.2M661.6,209.2 666.1,208.2 670.7,207.2 675.2,206.2 675.7,205.4 678.0,202.5 680.1,201.9M663.1,170.3 664.1,178.5 660.6,186.2 660.4,192.2 659.9,199.9 660.6,204.9 661.6,209.2M666.5,164.3 669.2,170.3 670.9,176.2 672.6,182.1 674.3,188.0 676.0,194.0 679.0,197.8 680.4,198.5M644.7,296.5 640.6,298.5M620.7,289.2 620.3,286.5 620.7,284.3 617.6,282.4 613.8,279.8 610.7,278.4"/>
</svg>
</body></html>
